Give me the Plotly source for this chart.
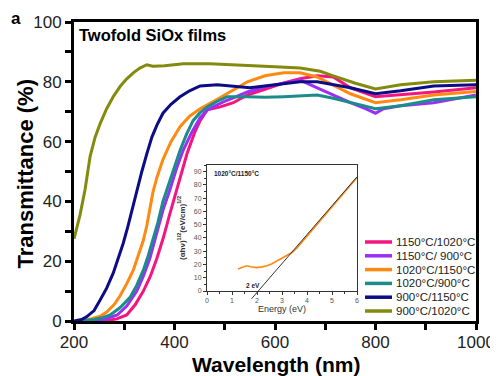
import plotly.graph_objects as go

# ---------------- data ----------------
series_names = ["1150°C/1020°C", "1150°C/ 900°C", "1020°C/1150°C",
                "1020°C/900°C", "900°C/1150°C", "900°C/1020°C"]
series_colors = ["#F5157F", "#9B2FF5", "#FF8A12", "#1A8C8A", "#0C0C86", "#838A0E"]

wl_pink = [260, 285, 305, 322, 338, 352, 365, 378, 391, 404, 425, 440, 451, 465, 491, 517, 545,
           580, 617, 650, 684, 716, 750, 800, 850, 916, 1000]
tr_pink = [0, 0.7, 2, 5.5, 10, 15, 21, 28, 36, 44, 56, 63, 67, 70.6, 71.6, 73, 75.6,
           77.5, 79.6, 81, 82, 81.6, 78, 75, 75.6, 76.6, 78]

wl_purple = [235, 260, 286, 305, 325, 338, 351, 364, 377, 391, 404, 417, 434, 451, 465, 477, 497,
             517, 545, 580, 617, 650, 684, 716, 750, 780, 800, 816, 850, 916, 1000]
tr_purple = [0, 0.5, 2, 5, 10, 15, 21, 29, 37, 44, 51, 57, 63, 68, 70.5, 71.6, 73.3,
             74.6, 76.6, 78.3, 79.6, 80.6, 78, 75.5, 73, 71, 69.5, 71, 72, 73, 75.6]

wl_orange = [205, 220, 235, 252, 265, 280, 292, 305, 318, 328, 338, 345, 351, 357, 365, 377, 393,
             411, 430, 451, 478, 505, 525, 545, 580, 617, 650, 684, 716, 750, 800, 850, 916, 1000]
tr_orange = [0, 0.3, 0.8, 1.6, 3, 5.5, 8.5, 12.5, 17, 22, 27, 32, 37, 43, 48, 54, 60,
             65, 68.5, 71, 73.5, 76, 78, 80, 82, 83, 83, 81.6, 79, 76, 73, 74, 75.6, 76.8]

wl_teal = [215, 240, 258, 272, 292, 312, 325, 338, 348, 357, 367, 377, 385, 398, 411, 424, 437,
           450, 465, 485, 505, 545, 580, 617, 650, 684, 716, 750, 800, 850, 916, 1000]
tr_teal = [0, 0.5, 1.2, 2, 4.5, 8, 12, 17, 22, 27, 33, 40, 44, 51, 57, 62.5, 67,
           69.5, 71.6, 73.5, 75, 75, 74.8, 75, 75.4, 75.6, 74.5, 73, 71, 72, 74, 75]

wl_navy = [200, 215, 225, 240, 252, 265, 278, 288, 298, 307, 315, 325, 335, 345, 355, 365, 377,
           393, 411, 430, 451, 485, 517, 550, 600, 650, 684, 720, 750, 800, 850, 916, 1000]
tr_navy = [0, 0.5, 1.4, 3.5, 7, 11, 16, 21, 26, 31.5, 37, 44, 50, 56, 61.5, 65.5, 69.5,
           72.5, 75, 77, 78.6, 79, 78.6, 78, 79, 80, 80, 79, 78, 76, 77, 78.6, 79]

wl_olive = [200, 212, 222, 232, 242, 252, 265, 278, 292, 305, 318, 331, 345, 357, 380, 418, 470,
            517, 550, 600, 650, 690, 716, 760, 800, 850, 916, 1000]
tr_olive = [27.5, 35.5, 44, 55, 61.5, 66, 71, 75, 78.5, 81, 83, 84.6, 85.7, 85.2, 85.4, 86, 86,
            85.6, 85.2, 85, 84.6, 83.5, 82, 79.5, 77.6, 79, 80, 80.5]

series_x = [wl_pink, wl_purple, wl_orange, wl_teal, wl_navy, wl_olive]
series_y = [tr_pink, tr_purple, tr_orange, tr_teal, tr_navy, tr_olive]

x_title = "Wavelength (nm)"
y_title = "Transmittance (%)"
panel_label = "a"
panel_title = "Twofold SiOx films"

# inset (Tauc plot) data
inset_label = "1020°C/1150°C"
energy = [1.24, 1.4, 1.58, 1.75, 1.98, 2.2, 2.4, 2.6, 2.8, 3.0, 3.2, 3.4, 3.6, 3.8, 4.0,
          4.5, 5.0, 5.5, 6.0]
tauc = [16.6, 17.5, 19, 18.3, 17.6, 18.2, 19, 20.5, 22.5, 24.5, 26.5, 29, 32.5, 37, 41.5,
        52.5, 63.5, 74.5, 85.5]
fit_energy = [1.78, 6.0]
fit_tauc = [-5.9, 86.1]
gap_label = "2 eV"
gap_pos = (1.84, 4.5)

# ---------------- figure ----------------
FONT = "Liberation Sans, Arial, sans-serif"
OFF = 8                      # page body margin of the viewer
W, H = 498 - OFF, 376 - OFF
ML, MR, MT, MB = 74 - OFF, 22, 22 - OFF, 55
PW, PH = W - ML - MR, H - MT - MB


def px_x(px):
    """page pixel x -> paper fraction"""
    return (px - OFF - ML) / PW


def px_y(py):
    """page pixel y -> paper fraction"""
    return (H - MB - (py - OFF)) / PH


fig = go.Figure()

for name, col, xs, ys in zip(series_names, series_colors, series_x, series_y):
    fig.add_trace(go.Scatter(x=xs, y=ys, mode="lines", name=name, showlegend=False,
                             line=dict(color=col, width=3), xaxis="x", yaxis="y"))

fig.add_trace(go.Scatter(x=energy, y=tauc, mode="lines", showlegend=False,
                         line=dict(color="#FF8A12", width=1.6), xaxis="x2", yaxis="y2"))
fig.add_trace(go.Scatter(x=fit_energy, y=fit_tauc, mode="lines", showlegend=False,
                         line=dict(color="#333333", width=1), xaxis="x3", yaxis="y3"))

# inset geometry (page pixels -> paper)
ix0, ix1 = px_x(207), px_x(357)
iy0, iy1 = px_y(291), px_y(165)
iyr = [0, 95]
y3_bottom = px_y(300)
scale = (iyr[1] - iyr[0]) / (iy1 - iy0)
y3r = [iyr[0] - (iy0 - y3_bottom) * scale, iyr[1]]

main_axis = dict(showline=True, linewidth=3, linecolor="black", mirror=True,
                 ticks="outside", ticklen=6, tickwidth=2.5, tickcolor="black",
                 showgrid=False, zeroline=False,
                 tickfont=dict(family=FONT, size=17, color="#222"))

# legend (text + swatch lines, row spacing as in the reference)
leg_x0, leg_x1, leg_text_x = 365, 392, 394
leg_row0, leg_dy = 242, 13.8
shapes = []
annotations = []
for i, (name, col) in enumerate(zip(series_names, series_colors)):
    yy = leg_row0 + i * leg_dy
    shapes.append(dict(type="line", xref="paper", yref="paper",
                       x0=px_x(leg_x0), x1=px_x(leg_x1), y0=px_y(yy), y1=px_y(yy),
                       line=dict(color=col, width=3.5)))
    annotations.append(dict(text=name, xref="paper", yref="paper",
                            x=px_x(leg_text_x), y=px_y(yy), xanchor="left", yanchor="middle",
                            showarrow=False, font=dict(family=FONT, size=11.5, color="#222")))

annotations += [
    dict(text="<b>" + panel_label + "</b>", xref="paper", yref="paper", x=px_x(9), y=px_y(18),
         xanchor="left", yanchor="middle", showarrow=False,
         font=dict(family=FONT, size=17, color="black")),
    dict(text="<b>" + panel_title + "</b>", xref="paper", yref="paper", x=px_x(77), y=px_y(35),
         xanchor="left", yanchor="middle", showarrow=False,
         font=dict(family=FONT, size=16.5, color="black")),
    dict(text="<b>" + x_title + "</b>", xref="paper", yref="paper", x=px_x(275.5), y=px_y(364.5),
         xanchor="center", yanchor="middle", showarrow=False,
         font=dict(family=FONT, size=21, color="black")),
    dict(text="<b>" + y_title + "</b>", xref="paper", yref="paper", x=px_x(25), y=px_y(173.5),
         xanchor="center", yanchor="middle", showarrow=False, textangle=-90,
         font=dict(family=FONT, size=22, color="black")),
    dict(text="<b>" + inset_label + "</b>", xref="x2 domain", yref="y2 domain", x=0.03, y=0.93,
         xanchor="left", yanchor="middle", showarrow=False,
         font=dict(family=FONT, size=6.5, color="#222")),
    dict(text="<b>" + gap_label + "</b>", xref="x2", yref="y2", x=gap_pos[0], y=gap_pos[1],
         xanchor="center", yanchor="middle", showarrow=False,
         font=dict(family=FONT, size=6.5, color="#222")),
]

fig.update_layout(
    width=W, height=H,
    margin=dict(l=ML, r=MR, t=MT, b=MB, autoexpand=False),
    paper_bgcolor="white", plot_bgcolor="rgba(0,0,0,0)",
    font=dict(family=FONT),
    showlegend=False,
    xaxis=dict(range=[200, 1000], dtick=200, domain=[0, 1], ticklabelstandoff=-2,
               minor=dict(dtick=100, ticks="outside", ticklen=6, tickwidth=2.5, tickcolor="black"),
               **main_axis),
    yaxis=dict(range=[0, 100], dtick=20, domain=[0, 1],
               minor=dict(dtick=10, ticks="outside", ticklen=6, tickwidth=2.5, tickcolor="black"),
               **main_axis),
    xaxis2=dict(domain=[ix0, ix1], anchor="y2", range=[0, 6], dtick=1,
                showline=True, linewidth=1, linecolor="#333", mirror=True,
                ticks="outside", ticklen=3, tickwidth=1, tickcolor="#333",
                minor=dict(dtick=0.5, ticks="outside", ticklen=2, tickcolor="#333"),
                showgrid=False, zeroline=False,
                tickfont=dict(family=FONT, size=7, color="#555"),
                title=dict(text="Energy (eV)", font=dict(family=FONT, size=9, color="#333"), standoff=2)),
    yaxis2=dict(domain=[iy0, iy1], anchor="x2", range=iyr, dtick=10,
                showline=True, linewidth=1, linecolor="#333", mirror=True,
                ticks="outside", ticklen=3, tickwidth=1, tickcolor="#333",
                minor=dict(dtick=5, ticks="outside", ticklen=2, tickcolor="#333"),
                showgrid=False, zeroline=False,
                tickfont=dict(family=FONT, size=7, color="#555"),
                title=dict(text="<b>(αhν)<sup>1/2</sup>(eV/cm)<sup>1/2</sup></b>",
                           font=dict(family=FONT, size=8, color="#333"), standoff=7)),
    xaxis3=dict(domain=[ix0, ix1], anchor="y3", range=[0, 6], visible=False),
    yaxis3=dict(domain=[y3_bottom, iy1], anchor="x3", range=y3r, visible=False),
    shapes=shapes,
    annotations=annotations,
)

fig.write_html("out.html")
